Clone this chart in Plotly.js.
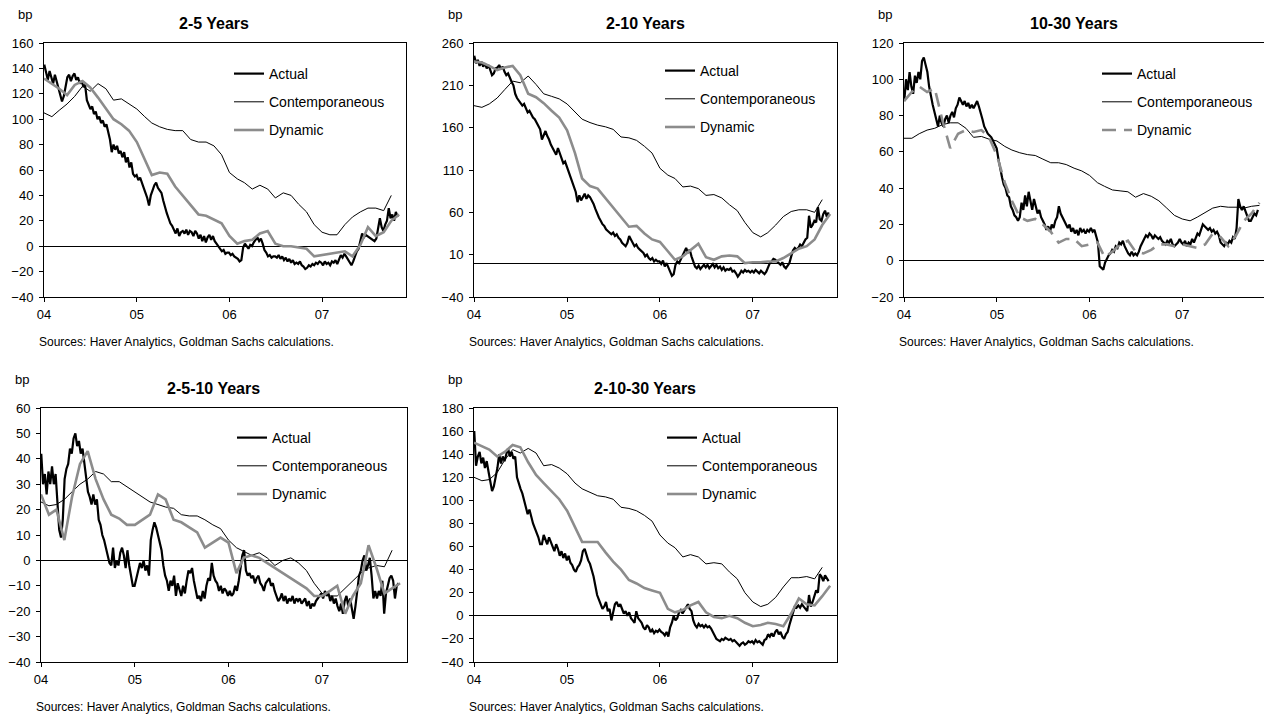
<!DOCTYPE html>
<html><head><meta charset="utf-8">
<script src="https://cdn.plot.ly/plotly-3.0.1.min.js"></script>
<style>html,body{margin:0;padding:0;background:#fff}#chart{width:1264px;height:714px}</style>
</head><body><div id="chart"></div>
<script>
// ---------------- DATA ----------------
const panelTitles = ["2-5 Years", "2-10 Years", "10-30 Years", "2-5-10 Years", "2-10-30 Years"];
const seriesNames = ["Actual", "Contemporaneous", "Dynamic"];
const xTickVals = ["2004-01-01", "2005-01-01", "2006-01-01", "2007-01-01"];
const xTickText = ["04", "05", "06", "07"];
const sourceText = "Sources: Haver Analytics, Goldman Sachs calculations.";

// Actual (weekly, starting 2 Jan 2004)
const actual_2_5 = [
 143,136,131,138,133,128,135,130,126,120,114,118,126,
 133,135,130,134,136,131,133,128,130,126,127,115,112,
 108,110,104,106,100,102,97,99,94,96,90,84,74,
 80,76,79,73,75,70,74,66,70,62,66,57,55,
 56,52,54,49,46,42,38,32,40,44,48,50,46,
 44,42,36,30,26,22,18,16,13,10,14,8,11,
 12,10,13,9,12,11,8,12,10,6,9,4,8,
 3,7,9,5,8,4,2,0,-2,-4,-3,-6,-5,
 -5,-7,-6,-8,-9,-10,-12,-11,-1,2,0,-2,1,
 0,3,5,7,4,6,2,-3,-5,-8,-7,-9,-8,
 -8,-9,-7,-10,-8,-11,-9,-12,-10,-13,-11,-14,-13,
 -14,-12,-15,-16,-18,-17,-15,-16,-14,-15,-13,-14,-12,
 -13,-15,-12,-14,-13,-15,-12,-13,-11,-14,-10,-7,-9,
 -6,-8,-10,-12,-15,-12,-8,-4,-2,4,10,7,9,
 8,7,6,5,4,6,14,22,15,12,17,20,30,
 22,25,20,27,23];
const actual_2_10 = [
 245,236,240,233,238,232,236,230,234,228,222,224,230,
 231,234,229,232,226,222,224,218,214,210,200,195,192,
 190,186,188,182,178,180,175,172,170,166,162,158,146,
 152,156,150,146,140,136,132,128,136,130,124,118,120,
 114,108,104,98,92,84,72,80,74,78,82,76,80,
 78,74,70,64,58,54,50,46,44,40,38,36,34,
 36,32,34,30,28,24,22,20,24,32,28,24,20,
 22,18,16,14,12,8,10,6,4,6,2,4,2,
 2,-1,3,-4,0,-6,-10,-15,-13,-2,2,0,5,
 8,14,18,12,16,8,2,-4,-6,-3,-7,-4,-2,
 -5,-2,-6,-3,-1,-5,-2,-6,-4,-8,-5,-9,-7,
 -8,-6,-10,-9,-12,-16,-13,-9,-11,-8,-10,-9,-11,
 -9,-11,-8,-10,-12,-9,-11,-13,-10,-4,0,2,5,
 4,2,0,-2,1,-4,-6,-3,0,8,15,18,16,
 18,22,20,24,28,30,56,42,45,50,48,66,52,
 50,58,62,55,60];
const actual_10_30 = [
 88,100,94,104,96,92,102,98,104,100,110,112,108,
 104,96,90,86,82,78,74,80,76,74,78,80,76,
 80,82,79,84,86,90,88,86,88,85,87,84,86,
 84,86,88,85,82,78,74,72,70,69,68,66,64,
 62,56,50,46,42,40,36,35,30,28,25,24,22,
 24,32,28,36,30,38,32,28,34,30,26,28,24,
 22,20,17,19,16,20,18,22,24,30,26,24,22,
 20,18,20,16,18,15,17,14,18,16,17,15,17,
 16,18,16,17,14,10,-3,-4,-5,-1,1,3,4,
 6,5,8,7,10,9,11,8,6,4,3,5,3,
 4,3,5,8,10,12,14,13,15,14,12,14,13,
 12,13,11,10,9,11,10,12,9,8,9,10,12,
 10,9,11,8,10,9,12,10,13,15,14,17,20,
 19,18,17,18,16,17,15,16,14,10,9,8,10,
 9,11,10,13,12,18,34,30,28,30,27,25,22,
 22,24,26,25,28];
const actual_2_5_10 = [
 42,30,34,26,35,30,37,30,34,22,12,9,16,
 32,36,38,44,42,48,50,45,47,42,44,38,33,
 27,25,22,26,22,24,16,14,10,8,5,2,-1,
 -2,5,-3,0,-2,3,5,2,-3,4,-2,-6,-10,
 -10,-7,-4,-1,-3,0,-4,-2,-6,8,12,15,13,
 10,8,4,-2,-6,-8,-12,-8,-10,-6,-14,-9,-12,
 -14,-10,-13,-8,-4,-5,-3,-8,-12,-15,-14,-16,-12,
 -15,-10,-7,-8,-1,-6,-8,-9,-12,-10,-13,-11,-12,
 -14,-12,-14,-13,-10,-12,-8,-2,2,4,-4,-6,-5,
 -7,-6,-9,-7,-6,-9,-10,-12,-9,-8,-7,-10,-9,
 -12,-14,-16,-15,-13,-16,-14,-17,-15,-16,-14,-17,-15,
 -16,-15,-17,-16,-15,-18,-16,-19,-17,-18,-16,-15,-14,
 -13,-15,-12,-14,-13,-16,-14,-17,-15,-18,-20,-17,-21,
 -16,-14,-18,-15,-19,-23,-18,-12,-6,-4,0,2,-4,
 -2,1,-6,-15,-12,-15,-12,-14,-8,-21,-13,-10,-7,
 -6,-8,-15,-10,-9];
const actual_2_10_30 = [
 160,130,138,142,132,137,128,134,125,115,108,112,120,
 128,140,132,138,134,140,145,138,142,136,138,120,114,
 110,106,100,96,88,92,85,80,76,72,68,62,62,
 70,66,62,68,64,60,56,62,58,52,56,50,54,
 48,52,46,44,40,38,42,44,48,56,58,52,48,
 45,40,34,26,18,14,10,6,8,12,4,6,-4,
 4,10,12,8,10,6,2,4,0,3,-2,-4,-6,
 4,-2,-4,-6,-10,-12,-8,-10,-14,-12,-15,-13,-14,
 -12,-14,-15,-17,-14,-18,-10,-6,0,-4,-2,3,5,
 2,5,8,10,6,4,-4,-8,-10,-7,-9,-8,-10,
 -8,-10,-9,-11,-14,-18,-20,-21,-22,-20,-21,-19,-20,
 -21,-20,-22,-21,-23,-25,-26,-24,-23,-25,-24,-22,-23,
 -22,-24,-21,-23,-22,-24,-25,-21,-20,-16,-18,-15,-18,
 -14,-12,-16,-14,-18,-20,-16,-14,-8,-2,4,8,7,
 9,7,10,8,6,4,18,8,12,18,22,20,36,
 34,30,35,32,30];

// Contemporaneous (monthly, from Jan 2004)
const contemp_2_5 = [105,102,107,112,118,126,122,128,124,115,116,112,108,102,97,94,92,91,91,84,82,82,79,72,58,53,50,45,48,45,38,42,40,33,27,17,11,9,9,17,23,27,30,30,28,40];
const contemp_2_10 = [186,184,188,195,205,215,213,221,211,200,197,194,188,178,170,166,163,161,158,149,148,145,138,130,112,104,100,90,91,88,80,81,77,69,62,48,36,31,36,45,55,61,63,63,60,75];
const contemp_10_30 = [67.5,67.5,70,72,73,75,76,76,73,68,68.5,67,66,63,61,59.5,58.5,58,56,54,54,53,51,49.5,47,43,41,39,38.5,38,35,37,35.5,33,29,25,23,22,24,26.5,29,30,29.5,29.5,29,30,30.5];
const contemp_2_5_10 = [23,21.5,22,24,27,30,32,35,34,31,31,29,27,25,23,22,21,20.5,18,17.5,17.5,16,14,12.5,8,5,3.5,2,3,1,-2,0,1,-1,-4,-9,-13,-14,-14,-11,-8,-5,-3,-2,-2.5,4];
const contemp_2_10_30 = [120,117,118,124,135,144,141,145,141,130,131,128,123,115,110,107,104,103,101,94,93,91,87,82,70,63,59,51,53,51,45,46,45,38,32,20,12,8,10,16,25,33,33,34,32,42];

// Dynamic (monthly, from Jan 2004)
const dynamic_2_5 = [132,128,124,119,127,130,125,117,108,100,96,91,82,68,56,58,57,47,40,32,25,24,21,18,8,2,4,5,10,12,2,0,0,-1,-2,-8,-7,-6,-5,-4,-8,1,15,8,11,20,25];
const dynamic_2_10 = [238,237,233,228,231,233,222,200,196,189,180,172,157,130,100,91,88,77,65,54,43,44,35,28,25,14,4,8,15,23,7,4,8,9,8,0,1,1,2,2,6,12,17,20,28,45,58];
const dynamic_10_30 = [88,93,96,93,95,77,62,70,72,71,72,68,58,43,33,24,22,23,20,16,10,12,12,8,9,10,2,5,9,11,5,4,6,9,9,8,9,8,7,9,15,13,8,14,22,26,32];
const dynamic_2_5_10 = [26,18,20,8,25,38,43,32,24,18,16.5,14,14,16,18,26,24,16,15,13,11,5,7,9,7,-5,1,2,1,-1,-3,-5,-7,-9,-11,-14,-14,-12,-10,-21,-14,-9,6,-3,-13,-11,-9];
const dynamic_2_10_30 = [150,147,144,138,142,148,146,133,122,115,108,101,91,76,64,64,64,55,47,40,31,28,24,22,20,6,3,5,9,12,3,-1,-2,0,-2,-6,-9,-8,-6,-7,-9,2,15,10,9,17,26];

// ---------------- BUILD ----------------
function weeklyDates(start, n) {
  const t0 = Date.parse(start + "T00:00:00Z"), out = [];
  for (let k = 0; k < n; k++) out.push(new Date(t0 + k * 7 * 86400000).toISOString().slice(0, 10));
  return out;
}
function monthlyDates(n) {
  const out = [];
  for (let m = 0; m < n; m++) out.push((2004 + Math.floor(m / 12)) + "-" + String(m % 12 + 1).padStart(2, "0") + "-01");
  return out;
}

const W = 1264, H = 714;
const FONT = "Liberation Sans, Arial, Helvetica, sans-serif";
const GRAY = "#8c8c8c";

const panels = [
  {act: actual_2_5, con: contemp_2_5, dyn: dynamic_2_5, yr: [-40, 160], dt: 20, box: [44, 406, 43, 297], xEnd: "2007-11-28", dash: "solid", leg: [229, 58], tx: 214},
  {act: actual_2_10, con: contemp_2_10, dyn: dynamic_2_10, yr: [-40, 260], dt: 50, box: [474, 837, 43, 297], xEnd: "2007-11-28", dash: "solid", leg: [660, 55], tx: 645},
  {act: actual_10_30, con: contemp_10_30, dyn: dynamic_10_30, yr: [-20, 120], dt: 20, box: [904, 1264, 43, 297], xEnd: "2007-11-19", dash: "14px,8px", leg: [1097, 58], tx: 1074},
  {act: actual_2_5_10, con: contemp_2_5_10, dyn: dynamic_2_5_10, yr: [-40, 60], dt: 10, box: [41, 407, 408, 662], xEnd: "2007-11-28", dash: "solid", leg: [232, 422], tx: 214},
  {act: actual_2_10_30, con: contemp_2_10_30, dyn: dynamic_2_10_30, yr: [-40, 180], dt: 20, box: [474, 837, 408, 662], xEnd: "2007-11-28", dash: "solid", leg: [662, 422], tx: 645}
];

const traces = [];
const layout = {
  width: W, height: H, margin: {l: 0, r: 0, t: 0, b: 0},
  paper_bgcolor: "#fff", plot_bgcolor: "#fff",
  font: {family: FONT, size: 13, color: "#000"},
  showlegend: true, annotations: []
};

panels.forEach((p, i) => {
  const n = i + 1, sfx = n === 1 ? "" : String(n);
  const xa = "x" + sfx, ya = "y" + sfx, lg = "legend" + sfx;
  const [x0, x1, y0, y1] = p.box;
  layout["xaxis" + sfx] = {
    domain: [x0 / W, x1 / W], range: ["2004-01-01", p.xEnd], type: "date", anchor: ya,
    tickmode: "array", tickvals: xTickVals, ticktext: xTickText,
    ticks: "outside", ticklen: 4, tickcolor: "#000", ticklabelstandoff: 1,
    showline: true, linecolor: "#000", linewidth: 1, mirror: true,
    showgrid: false, zeroline: false, tickfont: {size: 13, family: FONT}, fixedrange: true
  };
  layout["yaxis" + sfx] = {
    domain: [1 - y1 / H, 1 - y0 / H], range: p.yr, anchor: xa,
    tickmode: "linear", tick0: p.yr[0], dtick: p.dt,
    ticks: "outside", ticklen: 4, tickcolor: "#000", ticklabelstandoff: 3,
    showline: true, linecolor: "#000", linewidth: 1, mirror: true,
    showgrid: false, zeroline: true, zerolinecolor: "#000", zerolinewidth: 1,
    tickfont: {size: 13, family: FONT}, fixedrange: true
  };
  layout[lg] = {
    x: p.leg[0] / W, y: 1 - p.leg[1] / H, xanchor: "left", yanchor: "top",
    bgcolor: "rgba(0,0,0,0)", borderwidth: 0, traceorder: "grouped", tracegroupgap: 7,
    font: {size: 14, family: FONT, color: "#000"}, itemclick: false, itemdoubleclick: false
  };
  const wk = weeklyDates("2004-01-02", p.act.length);
  traces.push({x: wk, y: p.act, xaxis: xa, yaxis: ya, type: "scatter", mode: "lines", name: seriesNames[0],
    line: {color: "#000", width: 2.2}, legend: lg, legendgroup: "a" + n, legendrank: 1, hoverinfo: "skip"});
  traces.push({x: monthlyDates(p.con.length), y: p.con, xaxis: xa, yaxis: ya, type: "scatter", mode: "lines", name: seriesNames[1],
    line: {color: "#000", width: 1}, legend: lg, legendgroup: "c" + n, legendrank: 2, hoverinfo: "skip"});
  traces.push({x: monthlyDates(p.dyn.length), y: p.dyn, xaxis: xa, yaxis: ya, type: "scatter", mode: "lines", name: seriesNames[2],
    line: {color: GRAY, width: 2.6, dash: p.dash}, legend: lg, legendgroup: "d" + n, legendrank: 3, hoverinfo: "skip"});

  layout.annotations.push({text: "<b>" + panelTitles[i] + "</b>", xref: "paper", yref: "paper",
    x: p.tx / W, y: 1 - (y0 - 19) / H, xanchor: "center", yanchor: "middle",
    showarrow: false, font: {size: 16, family: FONT, color: "#000"}});
  layout.annotations.push({text: "bp", xref: "paper", yref: "paper",
    x: (x0 - 19) / W, y: 1 - (y0 - 29) / H, xanchor: "center", yanchor: "middle",
    showarrow: false, font: {size: 13, family: FONT, color: "#000"}});
  layout.annotations.push({text: sourceText, xref: "paper", yref: "paper",
    x: (x0 - 7) / W, y: 1 - (y1 + 45) / H, xanchor: "left", yanchor: "middle",
    showarrow: false, font: {size: 12, family: FONT, color: "#000"}});
});

Plotly.newPlot("chart", traces, layout, {displayModeBar: false, staticPlot: true});
</script></body></html>
